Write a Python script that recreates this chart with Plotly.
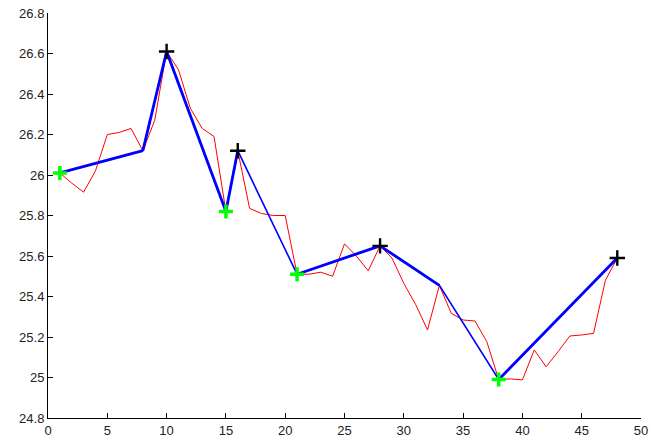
import plotly.graph_objects as go

# Red series (raw data)
red_x = list(range(1, 49))
red_y = [26.01, 25.96, 25.915, 26.02, 26.20, 26.21, 26.23, 26.12, 26.27, 26.61,
         26.52, 26.33, 26.23, 26.19, 25.82, 26.12, 25.835, 25.81, 25.80, 25.80,
         25.51, 25.51, 25.52, 25.50, 25.66, 25.60, 25.527, 25.65, 25.59, 25.465,
         25.36, 25.235, 25.455, 25.317, 25.284, 25.279, 25.177, 24.99, 24.993, 24.988,
         25.136, 25.053, 25.127, 25.205, 25.21, 25.218, 25.48, 25.59]

# Blue zigzag vertices
blue_x = [1, 8, 10, 15, 16, 21, 28, 33, 38, 48]
blue_y = [26.01, 26.12, 26.61, 25.82, 26.12, 25.51, 25.65, 25.455, 24.99, 25.59]

# Peaks (black +) and troughs (green +)
peak_x = [10, 16, 28, 48]
peak_y = [26.61, 26.12, 25.65, 25.59]
trough_x = [1, 15, 21, 38]
trough_y = [26.01, 25.82, 25.51, 24.99]

x_ticks = [0, 5, 10, 15, 20, 25, 30, 35, 40, 45, 50]
y_ticks = [24.8, 25.0, 25.2, 25.4, 25.6, 25.8, 26.0, 26.2, 26.4, 26.6, 26.8]
y_tick_text = ["24.8", "25", "25.2", "25.4", "25.6", "25.8", "26", "26.2", "26.4", "26.6", "26.8"]

# segments of the blue line drawn thinner in the original (index pairs)
thin_segments = [(4, 5), (7, 8)]
thick_x, thick_y = [], []
for i in range(len(blue_x) - 1):
    if (i, i + 1) in thin_segments:
        continue
    thick_x += [blue_x[i], blue_x[i + 1], None]
    thick_y += [blue_y[i], blue_y[i + 1], None]

fig = go.Figure()
fig.add_trace(go.Scatter(x=red_x, y=red_y, mode="lines",
                         line=dict(color="#FF0000", width=1), showlegend=False,
                         cliponaxis=False))
fig.add_trace(go.Scatter(x=blue_x, y=blue_y, mode="lines",
                         line=dict(color="#0000FF", width=1.6), showlegend=False,
                         cliponaxis=False))
fig.add_trace(go.Scatter(x=thick_x, y=thick_y, mode="lines",
                         line=dict(color="#0000FF", width=2.8), showlegend=False,
                         cliponaxis=False))
fig.add_trace(go.Scatter(x=peak_x, y=peak_y, mode="markers",
                         marker=dict(symbol="cross-thin", size=11,
                                     line=dict(color="#000000", width=2.4)),
                         showlegend=False, cliponaxis=False))
fig.add_trace(go.Scatter(x=trough_x, y=trough_y, mode="markers",
                         marker=dict(symbol="cross-thin", size=10,
                                     line=dict(color="#00FF00", width=3.5)),
                         showlegend=False, cliponaxis=False))

axis_font = dict(family="Liberation Sans, Arial, sans-serif", size=13, color="#222222")
fig.update_layout(
    width=660, height=444,
    margin=dict(l=48, r=19, t=13, b=26, autoexpand=False),
    paper_bgcolor="white", plot_bgcolor="white",
    xaxis=dict(range=[0, 50], tickvals=x_ticks, ticks="inside", ticklen=5,
               showgrid=False, zeroline=False, showline=True, linecolor="black",
               linewidth=1, tickcolor="black", tickfont=axis_font, automargin=False),
    yaxis=dict(range=[24.8, 26.8], tickvals=y_ticks, ticktext=y_tick_text,
               ticks="inside", ticklen=5,
               showgrid=False, zeroline=False, showline=True, linecolor="black",
               linewidth=1, tickcolor="black", tickfont=axis_font, automargin=False),
)
fig.write_html("out.html", config={"displayModeBar": False},
               post_script="document.body.style.margin='0';document.body.style.overflow='hidden';")
